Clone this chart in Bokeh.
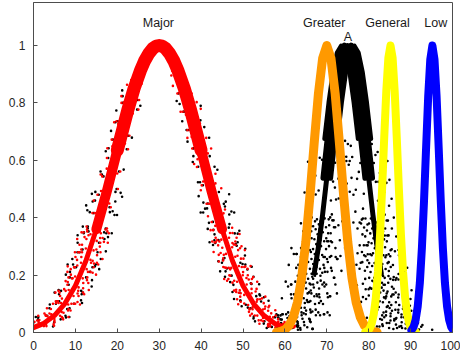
from bokeh.plotting import figure
from bokeh.models import Range1d, FixedTicker, ColumnDataSource
from bokeh.embed import file_html
from bokeh.resources import INLINE
from bokeh.core.properties import value

# ---- data ----
MAJOR_X = [0, 2.5, 5, 7.5, 10, 12.5, 15, 17.5, 20, 22.5, 24, 25.5, 26.5, 27.5, 28.5, 29.3, 30,
           30.7, 31.5, 32.5, 33.5, 34.5, 36, 37.5, 40, 42.5, 45, 47.5, 50, 52.5, 55, 57.5, 60]
MAJOR_Y = [0.017, 0.032, 0.059, 0.101, 0.163, 0.249, 0.360, 0.492, 0.635, 0.775, 0.850, 0.912, 0.946,
           0.972, 0.990, 0.998, 1.0,
           0.998, 0.990, 0.972, 0.946, 0.912, 0.850, 0.775, 0.635, 0.492, 0.360, 0.249, 0.163, 0.101,
           0.059, 0.032, 0.017]

A_X = [61, 62, 63, 64, 65, 66, 67, 68, 69, 70, 71, 72, 73, 74, 75,
       76, 77, 78, 79, 80, 81, 82, 83, 84, 85, 86, 87, 88, 89]
A_Y = [0.008, 0.015, 0.029, 0.050, 0.085, 0.135, 0.206, 0.298, 0.411, 0.539, 0.674, 0.801, 0.906, 0.976, 1.0,
       0.976, 0.906, 0.801, 0.674, 0.539, 0.411, 0.298, 0.206, 0.135, 0.085, 0.050, 0.029, 0.015, 0.008]

GREATER_X = [58, 59, 60, 61, 62, 63, 64, 65, 66, 67, 68, 69, 70,
             71, 72, 73, 74, 75, 76, 77, 78, 79, 80, 81, 82]
GREATER_Y = [0.001, 0.004, 0.010, 0.024, 0.053, 0.105, 0.191, 0.317, 0.480, 0.662, 0.832, 0.955, 1.0,
             0.955, 0.832, 0.662, 0.480, 0.317, 0.191, 0.105, 0.053, 0.024, 0.010, 0.004, 0.001]

GENERAL_X = [79.2, 79.7, 80.2, 80.7, 81.2, 81.7, 82.2, 82.7, 83.2, 83.7, 84.2, 84.7, 85.2,
             85.7, 86.2, 86.7, 87.2, 87.7, 88.2, 88.7, 89.2, 89.7, 90.2, 90.7, 91.2]
GENERAL_Y = [0.002, 0.005, 0.013, 0.030, 0.063, 0.120, 0.211, 0.339, 0.501, 0.678, 0.841, 0.958, 1.0,
             0.958, 0.841, 0.678, 0.501, 0.339, 0.211, 0.120, 0.063, 0.030, 0.013, 0.005, 0.002]

LOW_X = [90.2, 90.7, 91.2, 91.7, 92.2, 92.7, 93.2, 93.7, 94.2, 94.7, 95.2,
         95.7, 96.2, 96.7, 97.2, 97.7, 98.2, 98.7, 99.2, 99.7, 100.2]
LOW_Y = [0.008, 0.019, 0.044, 0.091, 0.172, 0.295, 0.458, 0.644, 0.823, 0.952, 1.0,
         0.952, 0.823, 0.644, 0.458, 0.295, 0.172, 0.091, 0.044, 0.019, 0.008]

LABELS = ["Major", "Greater", "A", "General", "Low"]
LABEL_X = [29.8, 69.4, 75.05, 84.5, 96.0]
LABEL_Y = [1.079, 1.079, 1.030, 1.079, 1.079]

X_TICKS = [0, 10, 20, 30, 40, 50, 60, 70, 80, 90, 100]
Y_TICKS = [0, 0.2, 0.4, 0.6, 0.8, 1]
X_RANGE = (0, 100)
Y_RANGE = (0, 1.15)

FONT = "Liberation Sans"
INK = "#262626"

p = figure(width=460, height=358, output_backend="svg", toolbar_location=None,
           x_range=Range1d(*X_RANGE), y_range=Range1d(*Y_RANGE))
p.min_border_left = 33
p.min_border_right = 8
p.min_border_top = 2
p.min_border_bottom = 26
p.background_fill_color = "white"
p.border_fill_color = "white"
p.outline_line_color = "#4d4d4d"
p.outline_line_width = 1
p.grid.visible = False

for ax in (p.xaxis[0], p.yaxis[0]):
    ax.major_tick_in = 4
    ax.major_tick_out = 0
    ax.minor_tick_line_color = None
    ax.axis_line_color = "#4d4d4d"
    ax.major_tick_line_color = "#4d4d4d"
    ax.major_label_text_font = FONT
    ax.major_label_text_font_size = "12px"
    ax.major_label_text_color = INK
p.xaxis[0].ticker = FixedTicker(ticks=X_TICKS)
p.yaxis[0].ticker = FixedTicker(ticks=Y_TICKS)
p.xaxis[0].major_label_standoff = 8
p.yaxis[0].major_label_standoff = 8
p.yaxis[0].major_label_overrides = {0: "0", 1: "1"}


def flanks(xs, ys, ymin=0.0, ymax=2.0):
    xp = xs[ys.index(max(ys))]
    left = [(x, y) for x, y in zip(xs, ys) if x <= xp and ymin <= y <= ymax]
    right = [(x, y) for x, y in zip(xs, ys) if x >= xp and ymin <= y <= ymax]
    out = []
    for part in (left, right):
        if len(part) > 1:
            out.append(([a for a, _ in part], [b for _, b in part]))
    return out


def subset(xs, ys, ymin=0.0):
    pts = [(x, y) for x, y in zip(xs, ys) if y >= ymin]
    return [a for a, _ in pts], [b for _, b in pts]


SPARSE = ["0 23", "0 31", "0 19", "0 37", "0 27", "0 41", "0 21", "0 33", "0 29", "0 17"]
DENSE = ["0 9", "0 13", "0 11", "0 15", "0 10", "0 14", "0 12", "0 8"]


def dotted(xs, ys, shifts, color, width=2.6, seed=0, ymin=0.0, ymax=2.0, dense=False):
    dashes = DENSE if dense else SPARSE
    for i, s in enumerate(shifts):
        k = i + seed
        for fx, fy in flanks(xs, ys, ymin, ymax):
            p.line([x + s for x in fx], fy, line_color=color, line_width=width,
                   line_cap="round", line_join="round",
                   line_dash=dashes[k % len(dashes)], line_dash_offset=(7 * k) % 17)


def solid(xs, ys, color, width, ymin=0.0, shift=0.0):
    sx, sy = subset(xs, ys, ymin)
    p.line([x + shift for x in sx], sy, line_color=color, line_width=width,
           line_cap="round", line_join="round")


# A (black, wide scatter)
dotted(A_X, A_Y, [-1.6, 1.6, -2.2, 2.2, -2.8, 2.8, -3.4, 3.4, -4.1, 4.1, -4.9, 4.9],
       "black", seed=1, ymax=0.75)
dotted(A_X, A_Y, [-1.2, 1.2, -1.9, 1.9, -2.5, 2.5, -3.1, 3.1, -0.6, 0.6, 0.0, -0.3, 0.3],
       "black", seed=4, ymax=0.45, dense=True)
dotted(A_X, A_Y, [-3.8, 3.8, -4.5, 4.5], "black", seed=2, ymax=0.4)
dotted(A_X, A_Y, [-5.6, 5.6, -6.4, 6.4, -5.0, 5.0], "black", seed=7, ymax=0.3)
solid(A_X, A_Y, "black", 5, ymin=0.2)
solid(A_X, A_Y, "black", 6, ymin=0.45, shift=-0.8)
solid(A_X, A_Y, "black", 6, ymin=0.45, shift=0.8)
solid(A_X, A_Y, "black", 4, ymin=0.55, shift=-1.6)
solid(A_X, A_Y, "black", 4, ymin=0.55, shift=1.6)

# Major: black scatter beneath red
dotted(MAJOR_X, MAJOR_Y, [-1.7, 1.7, -2.2, 2.2, -2.7, 2.7], "black", seed=2, ymax=0.9)
dotted(MAJOR_X, MAJOR_Y, [-2.1, 2.1, -2.7, 2.7, -3.4, 3.4, -4.0, 4.0], "black", seed=5, ymax=0.5)
dotted(MAJOR_X, MAJOR_Y, [-1.4, 1.4, -2.0, 2.0, -2.5, 2.5], "red", seed=0, ymax=0.92)
dotted(MAJOR_X, MAJOR_Y, [-1.0, 1.0, -1.6, 1.6, -2.2, 2.2, -2.8, 2.8], "red", seed=3,
       ymax=0.45, dense=True)
dotted(MAJOR_X, MAJOR_Y, [-3.3, 3.3, -3.8, 3.8], "red", seed=6, ymax=0.45)
solid(MAJOR_X, MAJOR_Y, "red", 5)
solid(MAJOR_X, MAJOR_Y, "red", 10, ymin=0.3)
solid(MAJOR_X, MAJOR_Y, "red", 13, ymin=0.55)

# Greater (orange)
solid(GREATER_X, GREATER_Y, "#FF9900", 9)

# General (yellow)
solid(GENERAL_X, GENERAL_Y, "#FFFF00", 8)

# Low (blue)
solid(LOW_X, LOW_Y, "#0000FF", 8)

# labels
src = ColumnDataSource(dict(x=LABEL_X, y=LABEL_Y, t=LABELS))
p.text(x="x", y="y", text="t", source=src, text_font=value(FONT), text_font_size="12.5px",
       text_align="center", text_baseline="alphabetic", text_color="#1a1a1a")

open("out.html", "w").write(file_html(p, INLINE))
